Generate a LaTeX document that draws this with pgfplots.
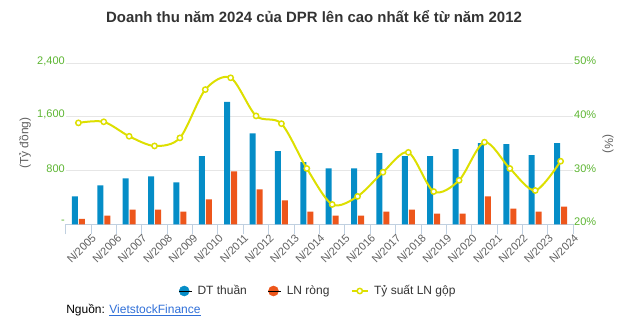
\documentclass[border=0pt]{standalone}
\usepackage{pgfplots}
\pgfplotsset{compat=1.18}
\usepackage{pgfplotstable}
\usepackage{fontspec}
\setmainfont{Liberation Sans}
\definecolor{cdt}{HTML}{058DC7}
\definecolor{cln}{HTML}{ED561B}
\definecolor{cts}{HTML}{DDDF00}
\definecolor{cgreen}{HTML}{5CB531}
\definecolor{cgrid}{HTML}{E6E6E6}
\definecolor{caxis}{HTML}{C0D0E0}
\definecolor{ctxt}{HTML}{606060}
\definecolor{ctitle}{HTML}{333333}
\definecolor{clink}{HTML}{2F6FD8}

\pgfplotstableread{
x dt ln ts
0 415 80 38.9
1 580 130 39.1
2 685 220 36.4
3 715 220 34.6
4 625 190 36.1
5 1015 370 45.1
6 1825 790 47.3
7 1355 520 40.2
8 1090 355 38.75
9 925 190 30.4
10 835 130 23.7
11 835 130 25.2
12 1060 190 29.7
13 1015 220 33.4
14 1015 160 26.1
15 1120 160 28.2
16 1210 415 35.3
17 1195 235 30.4
18 1030 190 26.3
19 1210 265 31.75
}\data

\begin{document}
\begin{tikzpicture}
\path[use as bounding box] (0pt,0pt) rectangle (468.75pt,246pt);
\begin{axis}[
  at={(49.275pt,77.775pt)}, anchor=south west,
  scale only axis, width=380.7pt, height=120.75pt,
  xmin=-0.5, xmax=19.5, ymin=0, ymax=2400,
  axis line style={draw=none},
  xtick={0,...,19},
  xticklabels={N/2005,N/2006,N/2007,N/2008,N/2009,N/2010,N/2011,N/2012,N/2013,N/2014,N/2015,N/2016,N/2017,N/2018,N/2019,N/2020,N/2021,N/2022,N/2023,N/2024},
  minor xtick={-0.5,0.5,...,19.5},
  xtick pos=left, ytick pos=left,
  tick align=outside,
  major tick length=0pt,
  minor tick length=7.5pt,
  minor tick style={caxis, line width=0.75pt},
  xticklabel style={rotate=45, anchor=east, inner sep=0pt, font=\fontsize{8.25}{10}\selectfont, text=ctxt, xshift=2.25pt, yshift=-14.5pt},
  ytick={0,800,1600,2400},
  yticklabels={{-},{800},{1,600},{2,400}},
  yticklabel style={inner sep=0pt, xshift=-0.5pt, yshift=1.8pt, font=\fontsize{8.25}{10}\selectfont, text=cgreen},
  ymajorgrids, major grid style={cgrid, line width=0.75pt},
  clip=false,
]
\draw[caxis, line width=0.75pt] (axis cs:-0.5,0) -- (axis cs:19.5,0);
\addplot[ybar, bar width=4.5pt, bar shift=-2.625pt, fill=cdt, draw=none] table[x=x,y=dt]{\data};
\addplot[ybar, bar width=4.5pt, bar shift=2.625pt, fill=cln, draw=none] table[x=x,y=ln]{\data};
\end{axis}
\begin{axis}[
  at={(49.275pt,77.775pt)}, anchor=south west,
  scale only axis, width=380.7pt, height=120.75pt,
  xmin=-0.5, xmax=19.5, ymin=20, ymax=50,
  axis line style={draw=none},
  xtick=\empty,
  ytick={20,30,40,50},
  yticklabels={20\%,30\%,40\%,50\%},
  ytick pos=right,
  major tick length=0pt,
  yticklabel style={inner sep=0pt, xshift=0.5pt, yshift=1.8pt, font=\fontsize{8.25}{10}\selectfont, text=cgreen},
  clip=false,
  legend columns=3,
  legend style={draw=none, fill=none, inner sep=0pt, outer sep=0pt,
    at={(axis description cs:0.2232,-0.4143)}, anchor=west,
    nodes={inner sep=0pt, text=ctitle, font=\fontsize{9}{11}\selectfont},
    column sep=0pt,
    /tikz/every odd column/.append style={column sep=4pt},
    /tikz/every even column/.append style={column sep=16pt}},
]
\addlegendimage{legend image code/.code={\fill[cdt] (0pt,0pt) circle (3.75pt); \path (-3.75pt,0pt) -- (5.75pt,0pt);}}
\addlegendentry{DT thuần}
\addlegendimage{legend image code/.code={\fill[cln] (0pt,0pt) circle (3.75pt); \path (-3.75pt,0pt) -- (5.75pt,0pt);}}
\addlegendentry{LN ròng}
\addplot[cts, line width=1.5pt, smooth, tension=0.5, mark=*, mark size=2pt,
  mark options={fill=white, draw=cts, line width=1.1pt},
  legend image code/.code={\draw[cts, line width=1.5pt] (0pt,0pt) -- (12pt,0pt); \draw[cts, line width=1.1pt, fill=white] (6pt,0pt) circle (2pt);}]
  table[x=x,y=ts]{\data};
\addlegendentry{Tỷ suất LN gộp}
\end{axis}
\node[font=\bfseries\fontsize{11.2}{13}\selectfont, text=ctitle] at (235.5pt,233.25pt) {Doanh thu năm 2024 của DPR lên cao nhất kể từ năm 2012};
\node[rotate=90, font=\fontsize{9}{11}\selectfont, text=ctxt] at (18.75pt,138.75pt) {(Tỷ đồng)};
\node[rotate=-90, font=\fontsize{9}{11}\selectfont, text=ctxt] at (456pt,138pt) {(\%)};
\node[anchor=west, inner sep=0pt, font=\fontsize{9}{11}\selectfont, text=black] at (49.5pt,13.5pt) {Nguồn: \textcolor{clink}{\underline{VietstockFinance}}};
\end{tikzpicture}
\end{document}
